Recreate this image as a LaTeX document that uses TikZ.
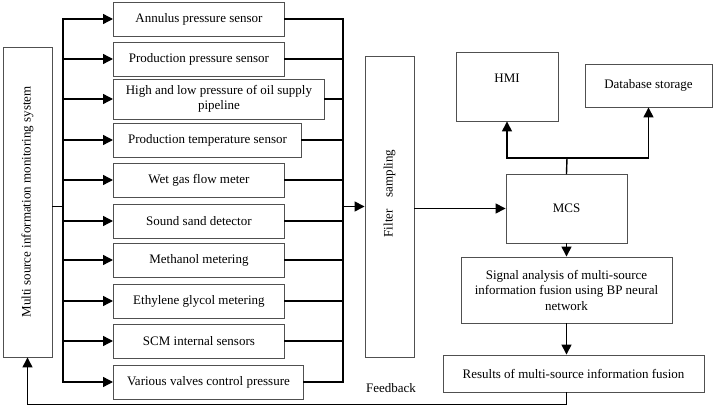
\documentclass[tikz,border=0pt]{standalone}
\usepackage{fontspec}
\setmainfont{Liberation Serif}
\usetikzlibrary{positioning,arrows.meta,calc}
\definecolor{edge}{HTML}{505050}
\tikzset{
  box/.style={rectangle,draw=edge,fill=white,line width=0.9pt,align=center,
    inner sep=2pt,font=\fontsize{13}{15.5}\selectfont},
  sbox/.style={box,anchor=west,minimum height=34pt},
  txt/.style={font=\fontsize{13}{15.5}\selectfont},
  fl/.style={-{Triangle[length=10pt,width=10pt]},line width=1.4pt},
  ln/.style={line width=1.4pt,line cap=rect},
}

\begin{document}
\begin{tikzpicture}[x=1pt,y=-1pt]
  \useasboundingbox (0,0) rectangle (716,409);
  % monitoring system
  \node[box,minimum width=49pt,minimum height=310pt] (mon) at (27.5,202) {};
  \node[txt,rotate=90] (mont) at (mon.center) {Multi source information monitoring system};
  % sensors
  \node[sbox,minimum width=171pt] (s1) at (113,19) {Annulus pressure sensor};
  \node[sbox,minimum width=171pt] (s2) at (113,59) {Production pressure sensor};
  \node[sbox,minimum width=211pt,minimum height=40pt] (s3) at (113,99) {High and low pressure of oil supply\\pipeline};
  \node[sbox,minimum width=188pt] (s4) at (113,140) {Production temperature sensor};
  \node[sbox,minimum width=171pt] (s5) at (113,180) {Wet gas flow meter};
  \node[sbox,minimum width=171pt] (s6) at (113,221) {Sound sand detector};
  \node[sbox,minimum width=171pt] (s7) at (113,260) {Methanol metering};
  \node[sbox,minimum width=171pt] (s8) at (113,301) {Ethylene glycol metering};
  \node[sbox,minimum width=171pt] (s9) at (113,341) {SCM internal sensors};
  \node[sbox,minimum width=190pt] (s10) at (113,382) {Various valves control pressure};
  % filter and processing
  \node[box,minimum width=49pt,minimum height=301pt] (fil) at (389.5,206.5) {};
  \node[txt,rotate=90] (filt) at (389.5,193.5) {Filter\hspace{12pt}sampling};
  \node[box,minimum width=121pt,minimum height=69pt] (mcs) at (566.5,208.5) {MCS};
  \node[box,minimum width=102pt,minimum height=69pt] (hmi) at (507,86.5) {};
  \node[txt] (hmit) at (507,78) {HMI};
  \node[box,minimum width=127pt,minimum height=43pt] (db) at (648.5,85.5) {Database storage};
  \node[box,minimum width=211pt,minimum height=66pt] (sig) at (566.5,290)
    {Signal analysis of multi-source\\information fusion using BP neural\\network};
  \node[box,minimum width=261pt,minimum height=37pt] (res) at (573.5,373.5)
    {Results of multi-source information fusion};
  \node[txt] (fbt) at (391,388) {Feedback};

  \coordinate (lt) at (63,19);
  \coordinate (lb) at (63,382);
  \coordinate (rt) at (343,19);
  \coordinate (rb) at (343,382);
  \coordinate (sp) at (567,158);

  \draw[ln] (mon.east|-fil.west) -- (lt|-fil.west);
  \draw[ln] (lt) -- (lb);
  \draw[ln] (rt) -- (rb);
  \foreach \i in {1,...,10} {
    \draw[fl] (lt|-s\i.west) -- (s\i.west);
    \draw[ln] (s\i.east) -- (rt|-s\i.east);
  }
  \draw[fl] (rt|-fil.west) -- (fil.west);
  \draw[fl] (fil.east|-mcs.west) -- (mcs.west);
  \draw[ln] (mcs.north) -- (sp);
  \draw[fl] (sp) -| (hmi.south);
  \draw[fl] (sp) -| (db.south);
  \draw[fl] (mcs.south) -- (sig.north);
  \draw[fl] (sig.south) -- (sig.south|-res.north);
  \draw[fl] (sig.south|-res.south) -- ++(0,12) -| (mon.south);
\end{tikzpicture}
\end{document}
